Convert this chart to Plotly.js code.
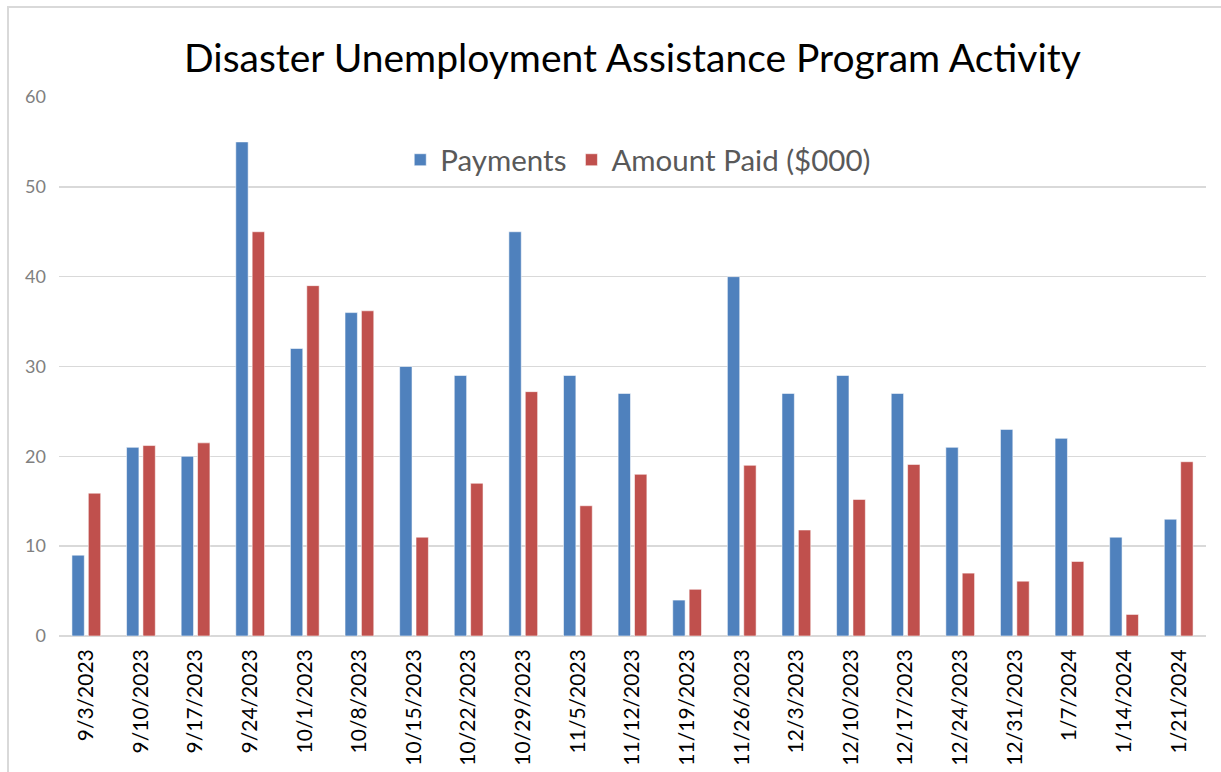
<!DOCTYPE html>
<html>
<head>
<meta charset="utf-8">
<script src="https://cdn.plot.ly/plotly-3.0.1.min.js"></script>
<style>
  html, body { margin: 0; padding: 0; background: #fff; overflow: hidden; }
  #frame { position: absolute; left: 7px; top: 6px; width: 1300px; height: 900px; border-left: 2px solid #d9d9d9; border-top: 2px solid #d9d9d9; pointer-events: none; z-index: 5; }
  #chart { position: absolute; left: 0; top: 0; width: 1221px; height: 772px; }
</style>
</head>
<body>
<div id="chart"></div>
<div id="frame"></div>
<script>
const weeks = ["9/3/2023","9/10/2023","9/17/2023","9/24/2023","10/1/2023","10/8/2023","10/15/2023","10/22/2023","10/29/2023","11/5/2023","11/12/2023","11/19/2023","11/26/2023","12/3/2023","12/10/2023","12/17/2023","12/24/2023","12/31/2023","1/7/2024","1/14/2024","1/21/2024"];
const payments = [9,21,20,55,32,36,30,29,45,29,27,4,40,27,29,27,21,23,22,11,13];
const amountPaid = [15.9,21.2,21.5,45,39,36.2,11,17,27.2,14.5,18,5.2,19,11.8,15.2,19.1,7,6.1,8.3,2.4,19.4];
const yTicks = [0,10,20,30,40,50,60];

const font = "Lato, 'Open Sans', sans-serif";
const traces = [
  { type: "bar", name: "Payments", x: weeks, y: payments,
    marker: { color: "#4F81BD", line: { color: "rgba(255,255,255,0.55)", width: 1 } } },
  { type: "bar", name: "Amount Paid ($000)", x: weeks, y: amountPaid,
    marker: { color: "#C0504D", line: { color: "rgba(255,255,255,0.55)", width: 1 } } }
];
const layout = {
  width: 1221, height: 772,
  margin: { l: 59, r: 15, t: 97, b: 136 },
  paper_bgcolor: "#fff", plot_bgcolor: "#fff",
  barmode: "group", bargap: 0.40, bargroupgap: 0.245,
  showlegend: true,
  title: { text: "Disaster Unemployment Assistance Program Activity",
    font: { family: font, size: 39, color: "#000" },
    xref: "container", yref: "container", x: 0.518, xanchor: "center", y: 0.925, yanchor: "middle" },
  legend: { orientation: "h", x: 0.505, y: 0.883, xanchor: "center", yanchor: "middle",
    font: { family: font, size: 29.5, color: "#595959" }, bgcolor: "rgba(0,0,0,0)",
    itemwidth: 30, traceorder: "normal" },
  xaxis: { type: "category", tickangle: -90, showgrid: false, showline: false, ticks: "",
    tickfont: { family: font, size: 21, color: "#000" }, ticklabelstandoff: 8, fixedrange: true },
  yaxis: { range: [0, 60], tickvals: yTicks, ticktext: yTicks.map(String),
    showgrid: true, gridcolor: "#d9d9d9", gridwidth: 1.5, zeroline: true, zerolinecolor: "#d9d9d9", zerolinewidth: 1.5,
    showline: false, ticks: "", tickfont: { family: font, size: 18, color: "#808080" }, ticklabelstandoff: 12, fixedrange: true }
};
Plotly.newPlot("chart", traces, layout, { displayModeBar: false, staticPlot: true });
</script>
</body>
</html>
